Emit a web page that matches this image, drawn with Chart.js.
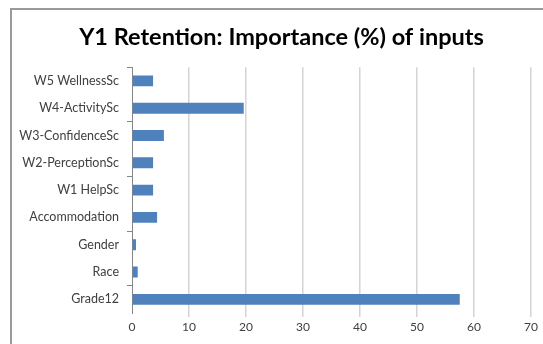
<!DOCTYPE html>
<html>
<head>
<meta charset="utf-8">
<script src="https://cdn.jsdelivr.net/npm/chart.js@4/dist/chart.umd.min.js"></script>
<style>
	body {margin: 0; background: #ffffff; overflow: hidden;}
	#wrap {position: absolute; left: 0; top: 0; width: 563px; height: 344px;}
	#frame {position: absolute; left: 10px; top: 8px; width: 600px; height: 400px;
		border-top: 2px solid #9a9a9a; border-left: 2px solid #9a9a9a;}
</style>
</head>
<body>
<div id="frame"></div>
<div id="wrap"><canvas id="myChart" width="563" height="344"></canvas></div>
<script>
// inputs, listed top to bottom
var labels = ["W5 WellnessSc", "W4-ActivitySc", "W3-ConfidenceSc", "W2-PerceptionSc", "W1 HelpSc",
	"Accommodation", "Gender", "Race", "Grade12"];
// importance in percent
var importance = [3.7, 19.6, 5.6, 3.7, 3.7, 4.4, 0.7, 1.0, 57.5];
var x_ticks = [0, 10, 20, 30, 40, 50, 60, 70];

var title_text = "Y1 Retention: Importance (%) of inputs";
var bar_color = "#4f81bd";
var label_font = "Lato, 'Open Sans', sans-serif";

// centre the title on the whole canvas, not on the padded layout box
var fullWidthTitle = {
	id: "fullWidthTitle",
	afterLayout: function(chart) {
		if (chart.titleBlock) {
			chart.titleBlock.left = 0;
			chart.titleBlock.right = chart.width;
		}
	}
};

var ctx = document.getElementById('myChart').getContext('2d');
var chart = renderChart(ctx);

// builds the horizontal bar chart
function renderChart(ctx) {
	return new Chart(ctx, {
	type: "bar",
	data: {
		labels: labels,
		datasets: [{
			label: "Importance",
			data: importance,
			backgroundColor: bar_color,
			borderWidth: 0,
			barPercentage: 0.4,
			categoryPercentage: 1.0,
		}],
	},
	plugins: [fullWidthTitle],
	options: {
		indexAxis: "y",
		responsive: false,
		animation: false,
		layout: {padding: {left: 0, right: 32, top: 0, bottom: 0}},
		plugins: {
			legend: {display: false},
			tooltip: {enabled: false},
			title: {
				display: true,
				text: title_text,
				color: "#000000",
				font: {family: label_font, size: 23.5, weight: "bold", lineHeight: 1.2},
				padding: {top: 23, bottom: 16},
			},
		},
		scales: {
			x: {
				min: 0,
				max: 70,
				afterBuildTicks: function(scale) {
					scale.ticks = x_ticks.map(function(v) { return {value: v}; });
				},
				afterFit: function(scale) { scale.height = 31; },
				border: {display: false},
				grid: {
					color: function(c) { return c.index === 0 ? "rgba(0,0,0,0)" : "#d4d4d4"; },
					lineWidth: 1.5,
					tickLength: 4,
				},
				ticks: {
					color: "#404040",
					font: {family: label_font, size: 12},
					padding: 3,
				},
			},
			y: {
				afterFit: function(scale) { scale.width = 132; },
				border: {display: true, color: "#868686", width: 1},
				grid: {
					offset: true,
					drawOnChartArea: false,
					tickLength: 5,
					// Excel style: a tick mark every second category
					color: function(c) { return c.index % 2 === 0 ? "#868686" : "rgba(0,0,0,0)"; },
				},
				ticks: {
					color: "#404040",
					font: {family: label_font, size: 12.5},
					padding: 8,
				},
			},
		},
	}
	});
}
</script>
</body>
</html>
